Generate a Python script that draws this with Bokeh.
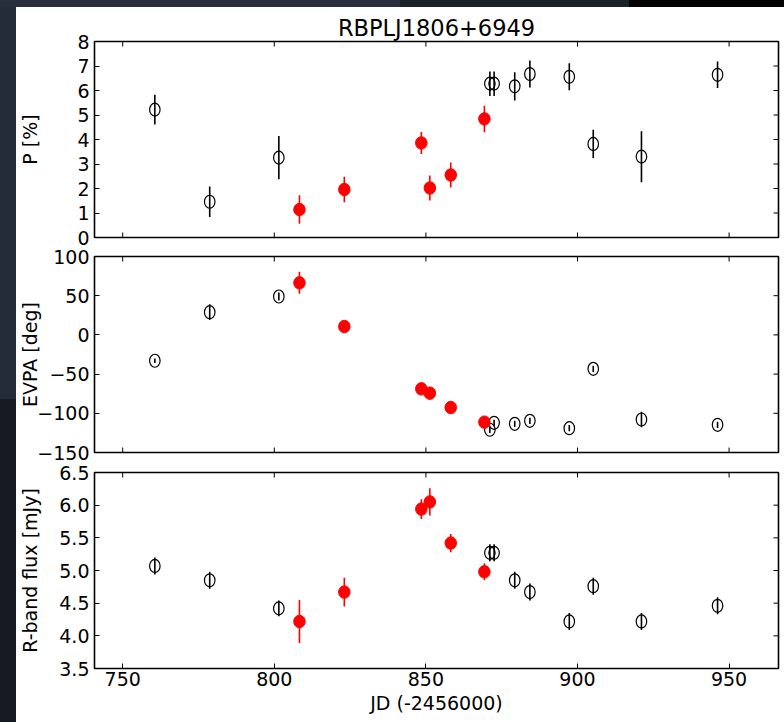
import math
from bokeh.plotting import figure
from bokeh.models import ColumnDataSource, FixedTicker, LinearAxis, Range1d, Spacer
from bokeh.layouts import column, row
from bokeh.embed import file_html
from bokeh.resources import INLINE

# ---------------- data ----------------
title_text = "RBPLJ1806+6949"
jd = [760.6, 778.7, 801.5, 808.3, 823.1, 848.5, 851.3, 858.2, 869.3,
      871.1, 872.5, 879.3, 884.3, 897.3, 905.2, 921.1, 946.2]
highlight = [False, False, False, True, True, True, True, True, True,
             False, False, False, False, False, False, False, False]

pol = [5.22, 1.46, 3.26, 1.14, 1.96, 3.86, 2.02, 2.55, 4.84,
       6.28, 6.28, 6.17, 6.67, 6.56, 3.82, 3.30, 6.64]
pol_err = [0.61, 0.62, 0.88, 0.58, 0.52, 0.45, 0.51, 0.51, 0.54,
           0.50, 0.50, 0.58, 0.55, 0.55, 0.58, 1.04, 0.54]

evpa = [-33.0, 29.0, 49.0, 66.4, 10.7, -68.8, -74.3, -92.6, -111.3,
        -121.0, -112.1, -113.4, -109.6, -119.0, -43.3, -107.9, -114.7]
evpa_err = [3, 10, 5, 14, 6, 4, 4, 4, 4, 4, 4, 4, 4, 4, 4, 10, 4]

flux = [5.07, 4.85, 4.42, 4.22, 4.67, 5.94, 6.05, 5.42, 4.98,
        5.27, 5.27, 4.85, 4.67, 4.22, 4.76, 4.22, 4.46]
flux_err = [0.13, 0.13, 0.12, 0.33, 0.22, 0.15, 0.21, 0.14, 0.13,
            0.13, 0.13, 0.13, 0.13, 0.13, 0.13, 0.13, 0.13]

x_ticks = [750, 800, 850, 900, 950]
x_tick_labels = ["750", "800", "850", "900", "950"]
pol_ticks = [0, 1, 2, 3, 4, 5, 6, 7, 8]
pol_tick_labels = ["0", "1", "2", "3", "4", "5", "6", "7", "8"]
evpa_ticks = [-150, -100, -50, 0, 50, 100]
evpa_tick_labels = ["\u2212150", "\u2212100", "\u221250", "0", "50", "100"]
flux_ticks = [3.5, 4.0, 4.5, 5.0, 5.5, 6.0, 6.5]
flux_tick_labels = ["3.5", "4.0", "4.5", "5.0", "5.5", "6.0", "6.5"]

x_label = "JD (-2456000)"
pol_label = "P [%]"
evpa_label = "EVPA [deg]"
flux_label = "R-band flux [mJy]"

XR = (740.7, 966.3)
FONT = "DejaVu Sans"
FS = "19px"


def make_panel(vals, errs, yr, yticks, ylabels, ylabel, lab_standoff,
               height, top, bottom, show_x, title=None, overlap=0):
    p = figure(width=768, height=height, output_backend="svg", toolbar_location=None,
               x_range=Range1d(*XR), y_range=Range1d(*yr),
               min_border_left=77, min_border_right=6,
               min_border_top=top, min_border_bottom=bottom,
               background_fill_color="white", border_fill_color="white",
               x_axis_location=None, y_axis_location=None)
    if overlap:
        p.margin = (-overlap, 0, 0, 0)
        p.border_fill_alpha = 0
    if title is not None:
        p.title.text = title
        p.title.text_font = FONT
        p.title.text_font_size = "22.5px"
        p.title.text_font_style = "normal"
        p.title.text_color = "black"
        p.title.align = "center"
        p.title.standoff = 1
    p.grid.visible = False
    p.outline_line_color = "black"
    p.outline_line_width = 1.6
    p.outline_line_alpha = 1.0

    def style(ax):
        ax.axis_line_color = None
        ax.major_tick_in = 5
        ax.major_tick_out = 0
        ax.minor_tick_in = 0
        ax.minor_tick_out = 0
        ax.major_tick_line_color = "black"
        ax.major_tick_line_width = 1
        ax.major_label_text_font = FONT
        ax.major_label_text_font_size = FS
        ax.major_label_text_color = "black"
        ax.axis_label_text_font = FONT
        ax.axis_label_text_font_size = FS
        ax.axis_label_text_font_style = "normal"
        ax.axis_label_text_color = "black"

    # left axis with labels
    yl = LinearAxis()
    style(yl)
    yl.ticker = FixedTicker(ticks=yticks)
    yl.major_label_overrides = {t: l for t, l in zip(yticks, ylabels)}
    yl.major_label_standoff = 5
    yl.axis_label = ylabel
    yl.axis_label_standoff = lab_standoff
    p.add_layout(yl, "left")

    # bottom axis with labels only on the last panel
    if show_x:
        xb = LinearAxis()
        style(xb)
        xb.ticker = FixedTicker(ticks=x_ticks)
        xb.major_label_overrides = {t: l for t, l in zip(x_ticks, x_tick_labels)}
        xb.major_label_standoff = 3
        xb.axis_label = x_label
        xb.axis_label_standoff = 3
        p.add_layout(xb, "below")
        xt_rows = [yr[1]]
    else:
        xt_rows = [yr[0], yr[1]]

    # inward tick marks on the unlabeled sides (clipped to the frame)
    tx = [t for r in xt_rows for t in x_ticks]
    ty = [r for r in xt_rows for t in x_ticks]
    p.scatter(x=tx, y=ty, marker="dash", size=10, angle=math.pi / 2,
              line_color="black", line_width=1)
    p.scatter(x=[XR[1]] * len(yticks), y=yticks, marker="dash", size=10,
              line_color="black", line_width=1)

    # data: error bars then markers, black open first, red filled after
    for flag, col in ((False, "black"), (True, "red")):
        xs = [x for x, h in zip(jd, highlight) if h == flag]
        ys = [v for v, h in zip(vals, highlight) if h == flag]
        es = [e for e, h in zip(errs, highlight) if h == flag]
        src = ColumnDataSource(dict(x=xs, y=ys,
                                    lo=[v - e for v, e in zip(ys, es)],
                                    hi=[v + e for v, e in zip(ys, es)]))
        p.segment(x0="x", y0="lo", x1="x", y1="hi", source=src,
                  line_color=col, line_width=1.6)
        if flag:
            p.ellipse(x="x", y="y", width=11.5, height=12.5,
                      width_units="screen", height_units="screen",
                      source=src, fill_color="red", line_color="red", line_width=1)
        else:
            p.ellipse(x="x", y="y", width=10.5, height=13,
                      width_units="screen", height_units="screen",
                      source=src, fill_color=None, line_color="black", line_width=1.2)
    return p


f1 = make_panel(pol, pol_err, (0, 8), pol_ticks, pol_tick_labels, pol_label, 33,
                242, 34, 12, False, title=title_text)
f2 = make_panel(evpa, evpa_err, (-150, 100), evpa_ticks, evpa_tick_labels, evpa_label, -7,
                220, 12, 12, False, overlap=5)
f3 = make_panel(flux, flux_err, (3.5, 6.5), flux_ticks, flux_tick_labels, flux_label, 15,
                263, 13, 54, True, overlap=5)

top_strip = row(Spacer(width=400, height=7, styles={"background-color": "#272f3d"}),
                Spacer(width=229, height=7, styles={"background-color": "#1b202a"}),
                Spacer(width=155, height=7, styles={"background-color": "#040404"}))
left_strip = column(Spacer(width=16, height=392, styles={"background-color": "#232a38"}),
                    Spacer(width=16, height=323, styles={"background-color": "#151a23"}))
p = column(top_strip, row(left_strip, column(f1, f2, f3)))

open("out.html", "w").write(file_html(p, INLINE))
